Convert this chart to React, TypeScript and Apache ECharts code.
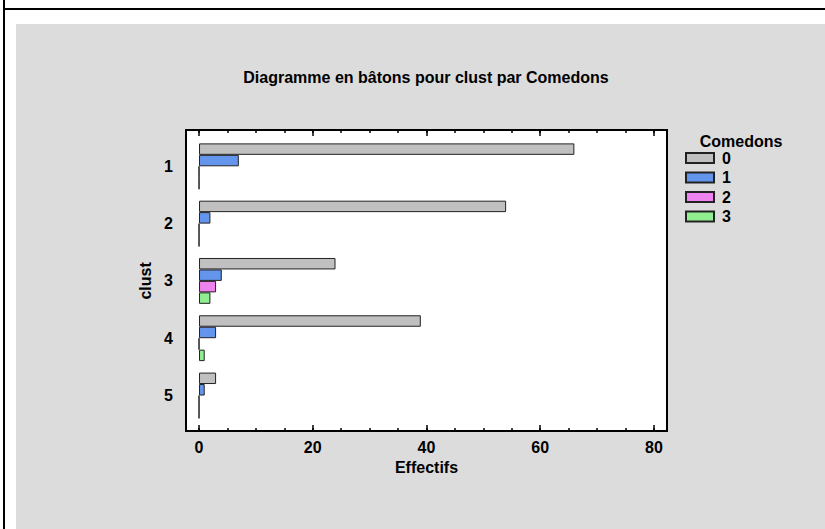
import React, { useEffect, useRef } from "react";
import * as echarts from "echarts";

const categories = ["1", "2", "3", "4", "5"];
const groupNames = ["0", "1", "2", "3"];
const counts0 = [66, 54, 24, 39, 3];
const counts1 = [7, 2, 4, 3, 1];
const counts2 = [0, 0, 3, 0, 0];
const counts3 = [0, 0, 2, 1, 0];
const majorTicks = [0, 20, 40, 60, 80];
const minorTicks = [0, 5, 10, 15, 20, 25, 30, 35, 40, 45, 50, 55, 60, 65, 70, 75, 80];
const colors = ["#C0C0C0", "#6495ED", "#EE82EE", "#90EE90"];

const FONT = '"Liberation Sans", Arial, sans-serif';
const txt = { fontFamily: FONT, fontSize: 16, fontWeight: "bold" as const, color: "#000" };

export default function App() {
  const ref = useRef<HTMLDivElement>(null);
  useEffect(() => {
    if (!ref.current) return;
    const chart = echarts.init(ref.current, undefined, { renderer: "svg" });
    const X_MIN = -2.29;
    const X_MAX = 82.29;
    const frame = { left: 186, top: 130, width: 481, height: 301 };
    const tickAxis = (gridIndex: number, position: string, ticks: number[], len: number, labels: boolean) => ({
      type: "value",
      gridIndex,
      position,
      min: X_MIN,
      max: X_MAX,
      axisLine: { show: false },
      splitLine: { show: false },
      axisTick: { show: true, inside: true, length: len, customValues: ticks, lineStyle: { color: "#000", width: 1.5 } },
      axisLabel: labels
        ? { show: true, customValues: majorTicks, margin: 8, ...txt }
        : { show: false },
    });
    const data = [counts0, counts1, counts2, counts3];
    chart.setOption({
      animation: false,
      backgroundColor: "#fff",
      graphic: [
        { type: "rect", z: -10, shape: { x: 16, y: 24, width: 809, height: 505 }, style: { fill: "#DCDCDC" } },
        { type: "rect", z: -9, shape: { x: 3, y: 0, width: 2, height: 529 }, style: { fill: "#000" } },
        { type: "rect", z: -9, shape: { x: 3, y: 8, width: 822, height: 2 }, style: { fill: "#000" } },
      ],
      title: [
        { text: "Diagramme en bâtons pour clust par Comedons", left: 426, top: 69, textAlign: "center", padding: 0, textStyle: txt },
        { text: "Comedons", left: 741, top: 133, textAlign: "center", padding: 0, textStyle: txt },
      ],
      legend: {
        data: groupNames,
        orient: "vertical",
        left: 685,
        top: 150,
        padding: 0,
        itemWidth: 28,
        itemHeight: 10,
        itemGap: 3.5,
        icon: "rect",
        textStyle: { ...txt, padding: [0, 0, 0, 3] },
      },
      grid: [
        { ...frame, show: true, backgroundColor: "#fff", borderColor: "#000", borderWidth: 2, containLabel: false },
        { left: 186, top: 137.65, width: 481, height: 286.5, containLabel: false },
        { ...frame, show: false, containLabel: false },
      ],
      xAxis: [
        { ...tickAxis(0, "bottom", majorTicks, 6, true), name: "Effectifs", nameLocation: "middle", nameGap: 28, nameTextStyle: txt },
        tickAxis(0, "top", majorTicks, 6, false),
        { type: "value", gridIndex: 1, min: X_MIN, max: X_MAX, show: false },
        tickAxis(2, "bottom", minorTicks, 3, false),
        tickAxis(2, "top", minorTicks, 3, false),
      ],
      yAxis: [
        { type: "value", gridIndex: 0, show: false },
        {
          type: "category",
          gridIndex: 1,
          data: categories,
          inverse: true,
          axisLine: { show: false },
          axisTick: { show: false },
          axisLabel: { margin: 13, ...txt },
          name: "clust",
          nameLocation: "middle",
          nameRotate: 90,
          nameGap: 26,
          nameTextStyle: txt,
        },
        { type: "value", gridIndex: 2, show: false },
      ],
      series: groupNames.map((name, i) => ({
        name,
        type: "bar",
        xAxisIndex: 2,
        yAxisIndex: 1,
        data: data[i],
        barWidth: 11.46,
        barGap: "0%",
        itemStyle: { color: colors[i], borderColor: "#222", borderWidth: 1 },
      })),
    });
    return () => chart.dispose();
  }, []);
  return <div ref={ref} style={{ position: "fixed", left: 0, top: 0, width: 825, height: 529 }} />;
}
